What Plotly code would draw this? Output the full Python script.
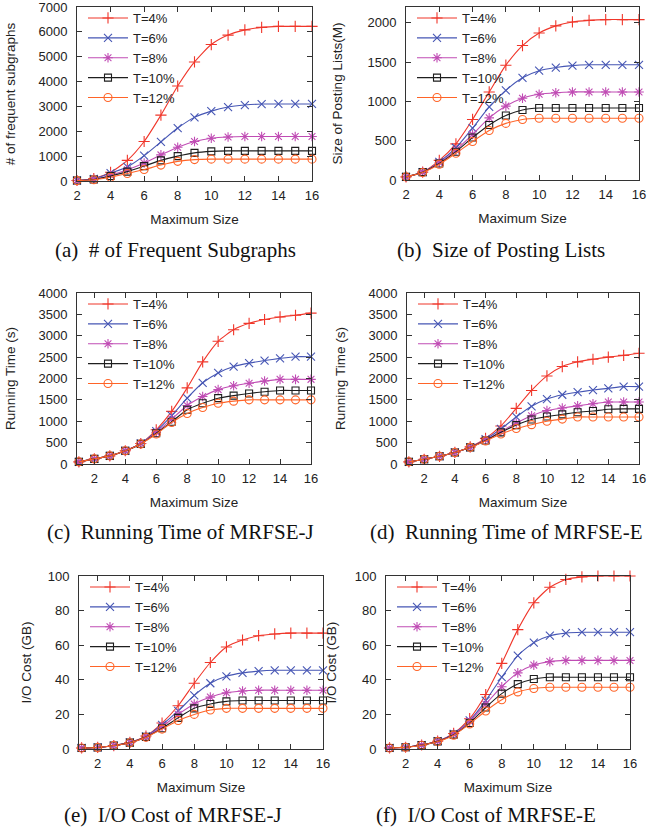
import plotly.graph_objects as go

# ---------------- data ----------------
series_names = ["T=4%", "T=6%", "T=8%", "T=10%", "T=12%"]
x_size_a = list(range(2, 17))
x_size_c = list(range(1, 17))

freq_T4 = [20, 100, 350, 830, 1590, 2650, 3820, 4790, 5490, 5870, 6080, 6180, 6220, 6220, 6220]
freq_T6 = [20, 80, 320, 565, 1020, 1575, 2130, 2560, 2810, 2975, 3055, 3095, 3100, 3100, 3100]
freq_T8 = [20, 70, 230, 450, 727, 1050, 1360, 1590, 1720, 1770, 1790, 1790, 1790, 1790, 1790]
freq_T10 = [20, 60, 200, 377, 600, 830, 1000, 1130, 1190, 1210, 1210, 1210, 1210, 1210, 1210]
freq_T12 = [15, 50, 150, 300, 460, 640, 790, 860, 880, 880, 880, 880, 880, 880, 880]

post_T4 = [40, 100, 250, 460, 770, 1120, 1460, 1710, 1870, 1960, 2010, 2030, 2040, 2040, 2040]
post_T6 = [40, 100, 230, 410, 660, 930, 1140, 1300, 1390, 1430, 1455, 1465, 1465, 1465, 1465]
post_T8 = [40, 100, 220, 380, 580, 790, 940, 1040, 1090, 1110, 1120, 1120, 1120, 1120, 1120]
post_T10 = [40, 100, 210, 360, 540, 700, 820, 890, 915, 915, 915, 915, 915, 915, 915]
post_T12 = [40, 95, 200, 340, 490, 630, 720, 770, 785, 785, 785, 785, 785, 785, 785]

rtj_T4 = [50, 120, 190, 310, 480, 800, 1230, 1780, 2390, 2870, 3140, 3290, 3380, 3440, 3480, 3530]
rtj_T6 = [50, 120, 190, 310, 480, 770, 1130, 1540, 1900, 2130, 2280, 2360, 2420, 2470, 2510, 2510]
rtj_T8 = [50, 120, 190, 310, 480, 740, 1050, 1370, 1580, 1740, 1830, 1890, 1940, 1980, 1980, 1980]
rtj_T10 = [50, 120, 190, 310, 470, 720, 990, 1270, 1420, 1540, 1600, 1650, 1690, 1720, 1720, 1720]
rtj_T12 = [50, 120, 190, 310, 470, 700, 970, 1180, 1320, 1420, 1470, 1500, 1500, 1500, 1500, 1500]

rte_T4 = [50, 110, 180, 270, 400, 600, 890, 1300, 1720, 2060, 2280, 2390, 2450, 2500, 2540, 2590]
rte_T6 = [50, 110, 180, 270, 390, 580, 820, 1100, 1350, 1520, 1620, 1680, 1730, 1770, 1810, 1810]
rte_T8 = [50, 110, 180, 270, 390, 560, 760, 960, 1130, 1250, 1310, 1360, 1410, 1450, 1450, 1450]
rte_T10 = [50, 110, 180, 270, 390, 550, 740, 910, 1040, 1110, 1160, 1210, 1240, 1280, 1290, 1290]
rte_T12 = [50, 110, 180, 270, 390, 540, 700, 830, 920, 1000, 1050, 1100, 1100, 1100, 1100, 1100]

ioj_T4 = [0.6, 0.9, 2, 3.8, 7.5, 15, 25, 38, 50, 59, 63, 65.5, 66.5, 67, 67, 67]
ioj_T6 = [0.6, 0.9, 2, 3.8, 7.3, 14, 22, 31, 38, 42, 44, 45, 45.5, 45.5, 45.5, 45.5]
ioj_T8 = [0.6, 0.9, 2, 3.7, 7, 13, 20, 26, 30, 32.5, 33.5, 34, 34, 34, 34, 34]
ioj_T10 = [0.6, 0.9, 2, 3.7, 7, 12, 18, 23.5, 26, 27.5, 28, 28, 28, 28, 28, 28]
ioj_T12 = [0.6, 0.9, 2, 3.6, 6.8, 11.5, 16.5, 20, 22.5, 23.5, 23.5, 23.5, 23.5, 23.5, 23.5, 23.5]

ioe_T4 = [0.6, 1, 2.3, 4.5, 9, 17.5, 31.5, 49.5, 69, 84.5, 93.5, 98, 99.5, 100, 100, 100]
ioe_T6 = [0.6, 1, 2.3, 4.5, 8.8, 16.5, 28, 41.5, 54, 61.5, 65.5, 67, 67.5, 67.5, 67.5, 67.5]
ioe_T8 = [0.6, 1, 2.3, 4.5, 8.5, 16, 26, 36, 44, 48.5, 50.5, 51.2, 51.2, 51.2, 51.2, 51.2]
ioe_T10 = [0.6, 1, 2.3, 4.4, 8.3, 15, 24, 32, 37.5, 40.5, 41.5, 41.5, 41.5, 41.5, 41.5, 41.5]
ioe_T12 = [0.6, 1, 2.2, 4.3, 8, 14.5, 22, 28.5, 33, 35, 35.7, 35.7, 35.7, 35.7, 35.7, 35.7]

y_titles = ["# of frequent subgraphs", "Size of Posting Lists(M)", "Running Time (s)",
            "Running Time (s)", "I/O Cost (GB)", "I/O Cost (GB)"]
captions = ["(a)  # of Frequent Subgraphs", "(b)  Size of Posting Lists",
            "(c)  Running Time of MRFSE-J", "(d)  Running Time of MRFSE-E",
            "(e)  I/O Cost of MRFSE-J", "(f)  I/O Cost of MRFSE-E"]
x_tick_vals = [2, 4, 6, 8, 10, 12, 14, 16]

# ---------------- styling ----------------
colors = ["#f0362a", "#4656b4", "#c04cb4", "#1e1e1e", "#ff6428"]
symbols = ["cross-thin", "x-thin", "asterisk-open", "square-open", "circle-open"]
msizes = [8, 8, 8, 7, 8]

W, H = 650, 833
panels = [
    dict(x=x_size_a, ys=[freq_T4, freq_T6, freq_T8, freq_T10, freq_T12],
         px=(77, 312), py=(7, 181), xr=[2, 16], yr=[0, 7000], dy=1000, ts=19),
    dict(x=x_size_a, ys=[post_T4, post_T6, post_T8, post_T10, post_T12],
         px=(406, 639), py=(7, 180), xr=[2, 16], yr=[0, 2200], dy=500, ts=21),
    dict(x=x_size_c, ys=[rtj_T4, rtj_T6, rtj_T8, rtj_T10, rtj_T12],
         px=(77, 311), py=(293, 464), xr=[0.88, 16], yr=[0, 4000], dy=500, ts=19),
    dict(x=x_size_c, ys=[rte_T4, rte_T6, rte_T8, rte_T10, rte_T12],
         px=(407, 639), py=(293, 464), xr=[0.88, 16], yr=[0, 4000], dy=500, ts=19),
    dict(x=x_size_c, ys=[ioj_T4, ioj_T6, ioj_T8, ioj_T10, ioj_T12],
         px=(79, 323), py=(576, 749), xr=[0.84, 16], yr=[0, 100], dy=20, ts=12),
    dict(x=x_size_c, ys=[ioe_T4, ioe_T6, ioe_T8, ioe_T10, ioe_T12],
         px=(386, 630), py=(576, 749), xr=[0.78, 16], yr=[0, 100], dy=20, ts=14),
]
caption_pos = [(175, 250), (501, 250), (180, 532), (506, 532), (173, 815), (486, 815)]

fig = go.Figure()
layout = dict(template="none", width=W, height=H, margin=dict(l=0, r=0, t=0, b=0),
              paper_bgcolor="white", plot_bgcolor="white",
              font=dict(family="Liberation Sans, Arial, sans-serif", size=13, color="#222"),
              annotations=[])

tick_font = dict(family="Liberation Sans, Arial, sans-serif", size=13, color="#222")
title_font = dict(family="Liberation Sans, Arial, sans-serif", size=13.5, color="#222")

for i, p in enumerate(panels):
    k = "" if i == 0 else str(i + 1)
    xa, ya = "x" + k, "y" + k
    lg = "legend" + k
    for j in range(5):
        fig.add_trace(go.Scatter(
            x=p["x"], y=p["ys"][j], name=series_names[j], mode="lines+markers",
            xaxis=xa, yaxis=ya, legend=lg, cliponaxis=False,
            line=dict(color=colors[j], width=1.1, shape="spline", smoothing=0.6),
            marker=dict(symbol=symbols[j], size=msizes[j], color=colors[j],
                        line=dict(color=colors[j], width=1.1)),
        ))
    x0, x1 = p["px"][0] / W, p["px"][1] / W
    y0, y1 = 1 - p["py"][1] / H, 1 - p["py"][0] / H
    common = dict(showline=True, linecolor="#333", linewidth=1, mirror="ticks",
                  ticks="inside", ticklen=5, tickcolor="#333", showgrid=False,
                  zeroline=False, tickfont=tick_font, automargin=False,
                  ticklabeloverflow="allow")
    layout["xaxis" + k] = dict(domain=[x0, x1], anchor=ya, range=p["xr"],
                               tickvals=x_tick_vals, ticklabelstandoff=2,
                               title=dict(text="Maximum Size", font=title_font, standoff=12),
                               **common)
    layout["yaxis" + k] = dict(domain=[y0, y1], anchor=xa, range=p["yr"], dtick=p["dy"],
                               ticklabelstandoff=6,
                               title=dict(text=y_titles[i], font=title_font, standoff=p["ts"]),
                               **common)
    layout[lg] = dict(x=x0 + 6 / W, y=y1 + 4 / H, xanchor="left", yanchor="top",
                      bgcolor="rgba(0,0,0,0)", font=dict(size=13, color="#222"),
                      itemwidth=40, tracegroupgap=0)
    cx, cy = caption_pos[i]
    layout["annotations"].append(dict(
        text=captions[i], x=cx / W, y=1 - cy / H, xref="paper", yref="paper",
        xanchor="center", yanchor="middle", showarrow=False,
        font=dict(family="Liberation Serif, Times New Roman, serif", size=21, color="#111")))

fig.update_layout(**layout)
fig.write_html("out.html", config={"displayModeBar": False},
               post_script="document.body.style.margin='0px';")
